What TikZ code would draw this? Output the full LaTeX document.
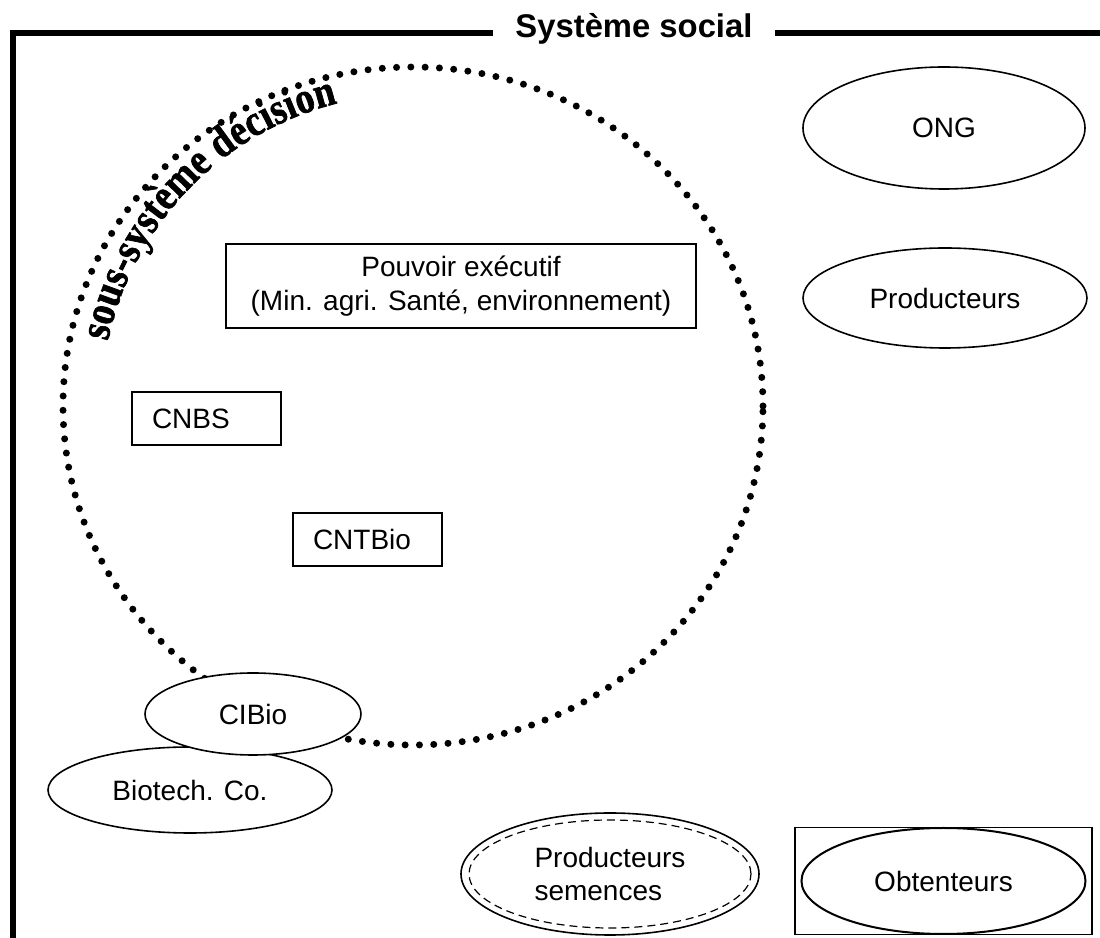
\documentclass[tikz,border=0pt]{standalone}
\usepackage{fontspec}
\setmainfont{Liberation Sans}
\newfontfamily\arcfont[FakeStretch=0.85, BoldFeatures={FakeBold=1.5}]{Liberation Serif}
\usetikzlibrary{shapes.geometric,decorations.text}

\newcommand\arcstyle{\arcfont\bfseries\fontsize{22}{24}\selectfont}

\tikzset{
  cadre/.style={line width=3pt},
  titre/.style={font=\bfseries\fontsize{16.4}{19}\selectfont, inner xsep=11pt, inner ysep=0pt, anchor=base},
  boite/.style={draw, line width=0.8pt, align=center},
  petiteboite/.style={draw, line width=0.8pt, text width=54.5pt, inner xsep=10pt, minimum height=26.5pt, align=left},
  bulle/.style={draw, ellipse, line width=0.8pt, inner sep=0pt, align=center},
  pointille/.style={line width=3.5pt, dash pattern=on 0pt off 7.15pt, line cap=round},
}

\begin{document}
\begin{tikzpicture}[x=0.5pt, y=0.5pt, font=\fontsize{14}{16.8}\selectfont]
    \useasboundingbox (0,0) rectangle (1100,938);

    % Cadre du systeme social
    \node[titre] (titre) at (634,900) {Système social};
    \coordinate (coinHG) at (13,905);
    \draw[cadre] (titre.west |- coinHG) -- (coinHG) -- (coinHG |- 0,0);
    \draw[cadre] (titre.east |- coinHG) -- (1100,905);

    % Sous-systeme decision
    \draw[pointille] (413,532) ellipse [x radius=350, y radius=339];
    \path[decorate, decoration={text along path, text align={fit to path},
        text={|\arcstyle|sous-système décision}}]
        (413,532) ++(168:312) arc [start angle=168, end angle=104, radius=312];

    \node[boite, minimum width=235pt, minimum height=42pt] (pouvoir) at (461,652)
        {Pouvoir exécutif\\(Min. agri. Santé, environnement)};
    \node[petiteboite] (cnbs) at (206.5,519.5) {CNBS};
    \node[petiteboite] (cntbio) at (367.5,398.5) {CNTBio};

    \node[bulle, minimum width=142pt, minimum height=43pt] (biotech) at (190,148) {Biotech. Co.};
    \node[bulle, fill=white, minimum width=108pt, minimum height=41pt] (cibio) at (253,224) {CIBio};

    % Acteurs hors du sous-systeme
    \node[bulle, minimum width=141pt, minimum height=61pt] (ong) at (944,810) {ONG};
    \node[bulle, minimum width=142pt, minimum height=50pt] (producteurs) at (945,640) {Producteurs};

    \node[bulle, minimum width=149pt, minimum height=61pt, align=left] (semences) at (610,64)
        {Producteurs\\semences};
    \draw[line width=0.6pt, dash pattern=on 4pt off 2.5pt] (semences.center)
        ellipse [x radius=141, y radius=54]; % contour interne

    \node[draw, line width=0.8pt, minimum width=148.5pt, minimum height=53.5pt] (cadreobt) at (943.5,57) {};
    \node[bulle, line width=1pt, minimum width=142pt, minimum height=53pt] (obtenteurs) at (cadreobt.center) {Obtenteurs};
\end{tikzpicture}
\end{document}
